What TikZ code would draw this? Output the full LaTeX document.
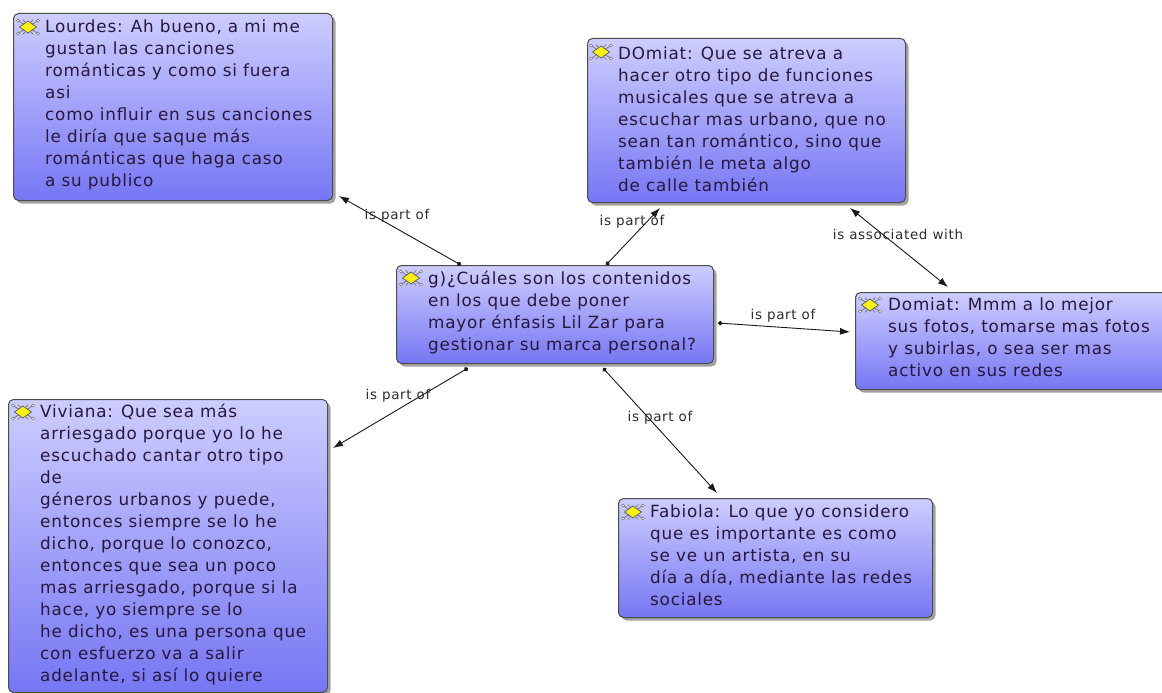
\documentclass[tikz,border=0pt]{standalone}
\usepackage{fontspec}
\setmainfont{DejaVu Sans}
\newfontfamily\boxfont[LetterSpace=4.7]{DejaVu Sans}
\newfontfamily\labfont[LetterSpace=5]{DejaVu Sans}
\usetikzlibrary{shadows,arrows.meta,calc}
\definecolor{boxtop}{RGB}{205,205,255}
\definecolor{boxbot}{RGB}{118,118,244}
\definecolor{txt}{RGB}{40,24,60}
\definecolor{edgec}{RGB}{25,25,25}
\definecolor{lbl}{RGB}{45,45,45}
\definecolor{iconyel}{RGB}{250,240,20}
\tikzset{
 cbox/.style={draw=black!70, line width=1pt, rounded corners=5pt, top color=boxtop, bottom color=boxbot,
   drop shadow={shadow xshift=3pt, shadow yshift=-3pt, fill=black!60, opacity=0.6}, anchor=north west, inner sep=0pt},
 ctext/.style={anchor=north west, inner sep=0pt, align=left, text=txt, font=\boxfont\fontsize{16.8}{22}\selectfont},
 rel/.style={draw=edgec, line width=0.9pt, {Circle[length=4.5pt]}-{Latex[length=10pt,width=7pt]}},
 assoc/.style={draw=edgec, line width=0.9pt, {Latex[length=10pt,width=7pt]}-{Latex[length=10pt,width=7pt]}},
 lab/.style={text=lbl, font=\labfont\fontsize{13.5}{15}\selectfont, inner sep=0pt},
 qicon/.pic={
   \draw[black!55, line width=0.7pt] (-10,-6.5) -- (10,6.5) (-10,6.5) -- (10,-6.5) (-5,-7.5) -- (-3,-5) (5,-7.5) -- (3,-5) (-5,7.5) -- (-3,5) (5,7.5) -- (3,5);
   \foreach \p in {(-10,-6.5),(10,-6.5),(-10,6.5),(10,6.5)} \draw[black!55, fill=white, line width=0.5pt] \p circle (1.6);
   \draw[black!65, fill=iconyel, line width=0.7pt] (-8.5,0) -- (0,-6) -- (8.5,0) -- (0,6) -- cycle;
 }
}
\begin{document}
\begin{tikzpicture}[x=1pt,y=-1pt]
\useasboundingbox (0,0) rectangle (1162,693);
\clip (0,0) rectangle (1162,693);
\fill[white] (0,0) rectangle (1162,693);

% boxes
\node[cbox, minimum width=319pt, minimum height=187pt] (lourdes) at (13,13) {};
\node[cbox, minimum width=317pt, minimum height=98pt] (c) at (396,265) {};
\node[cbox, minimum width=318pt, minimum height=164pt] (dom1) at (587,38) {};
\node[cbox, minimum width=320pt, minimum height=97pt] (dom2) at (855,292) {};
\node[cbox, minimum width=319pt, minimum height=293pt] (viv) at (8,399) {};
\node[cbox, minimum width=314pt, minimum height=119pt] (fab) at (618,498) {};

% icons
\pic at (28,27) {qicon};
\pic at (411,278) {qicon};
\pic at (601,52) {qicon};
\pic at (870,305) {qicon};
\pic at (23,412) {qicon};
\pic at (633,512) {qicon};

% texts
\node[ctext] (lourdesT) at (45,17) {\strut Lourdes: Ah bueno, a mi me\\gustan las canciones\\románticas y como si fuera\\asi\\como influir en sus canciones\\le diría que saque más\\románticas que haga caso\\a su publico};
\node[ctext] (cT) at (428,269) {\strut g)¿Cuáles son los contenidos\\en los que debe poner\\mayor énfasis Lil Zar para\\gestionar su marca personal?};
\node[ctext] (dom1T) at (618,44) {\strut DOmiat: Que se atreva a\\hacer otro tipo de funciones\\musicales que se atreva a\\escuchar mas urbano, que no\\sean tan romántico, sino que\\también le meta algo\\de calle también};
\node[ctext] (dom2T) at (888,295) {\strut Domiat: Mmm a lo mejor\\sus fotos, tomarse mas fotos\\y subirlas, o sea ser mas\\activo en sus redes};
\node[ctext] (vivT) at (40,402) {\strut Viviana: Que sea más\\arriesgado porque yo lo he\\escuchado cantar otro tipo\\de\\géneros urbanos y puede,\\entonces siempre se lo he\\dicho, porque lo conozco,\\entonces que sea un poco\\mas arriesgado, porque si la\\hace, yo siempre se lo\\he dicho, es una persona que\\con esfuerzo va a salir\\adelante, si así lo quiere};
\node[ctext] (fabT) at (650,502) {\strut Fabiola: Lo que yo considero\\que es importante es como\\se ve un artista, en su\\día a día, mediante las redes\\sociales};

% connectors
\draw[rel] ([xshift=65pt]c.north west) -- ([xshift=6pt,yshift=5pt]lourdes.south east);
\draw[rel] ([xshift=210pt]c.north west) -- ([xshift=73pt,yshift=-5pt]dom1.south west);
\draw[assoc] ([xshift=263pt,yshift=-5pt]dom1.south west) -- ([xshift=93pt,yshift=5pt]dom2.north west);
\draw[rel] ([xshift=4pt,yshift=-58pt]c.north east) -- ([xshift=-5pt,yshift=-40pt]dom2.north west);
\draw[rel] ([xshift=72pt,yshift=-4pt]c.south west) -- ([xshift=5pt,yshift=-49pt]viv.north east);
\draw[rel] ([xshift=207pt,yshift=-4pt]c.south west) -- ([xshift=99pt,yshift=5pt]fab.north west);

% labels
\node[lab] (l1) at (397,216) {is part of};
\node[lab] (l2) at (632,222) {is part of};
\node[lab] (l3) at (898,234) {is associated with};
\node[lab] (l4) at (783,316) {is part of};
\node[lab] (l5) at (398,396) {is part of};
\node[lab] (l6) at (660,418) {is part of};
\end{tikzpicture}
\end{document}
